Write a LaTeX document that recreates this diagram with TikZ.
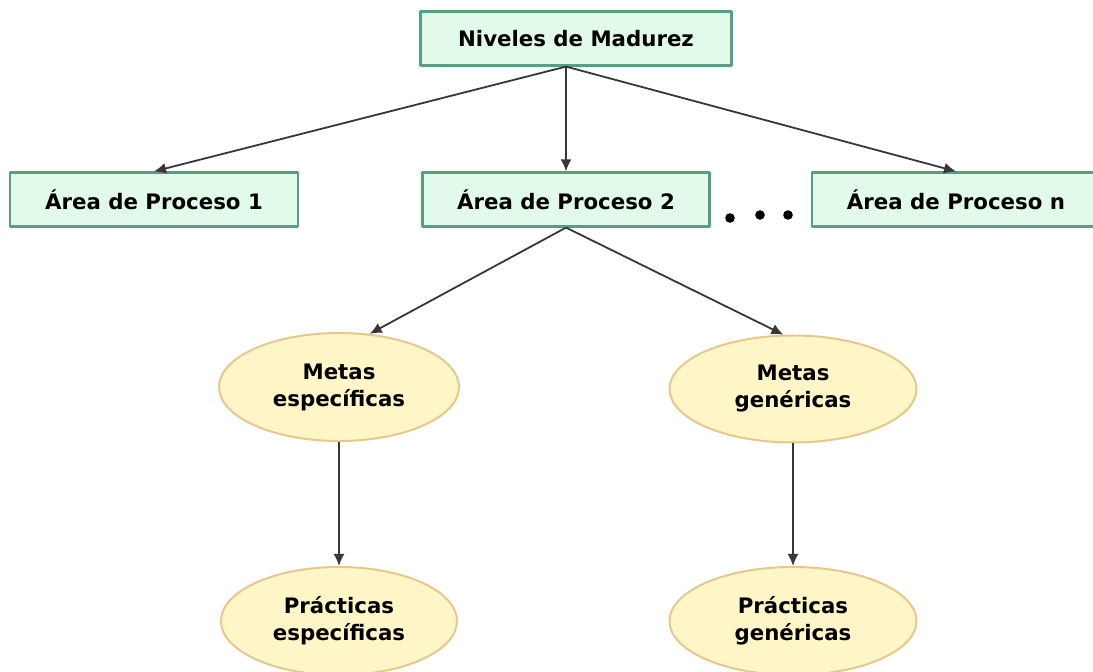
\documentclass[tikz,border=0pt]{standalone}
\usepackage[x11names, svgnames, rgb]{xcolor}
\usepackage{fontspec}
\setmainfont{DejaVu Sans}
\usepackage{tikz}
\usetikzlibrary{arrows.meta,shapes}
\definecolor{boxfill}{RGB}{226,250,233}
\definecolor{boxline}{RGB}{86,160,128}
\definecolor{ovalfill}{RGB}{255,246,200}
\definecolor{ovalline}{RGB}{230,200,140}
\definecolor{linkcol}{RGB}{55,55,55}

\begin{document}
\begin{tikzpicture}[>={Latex[length=12bp,width=11bp]},line join=bevel,
  txt/.style={font=\bfseries\fontsize{21.3bp}{27bp}\selectfont,align=center},
  areabox/.style={txt,draw=boxline,fill=boxfill,line width=2.2bp,inner sep=0pt,minimum height=54bp},
  oval/.style={txt,ellipse,draw=ovalline,fill=ovalfill,line width=2bp,inner sep=0pt},
  link/.style={->,draw=linkcol,line width=1.8bp}]
\useasboundingbox (0bp,0bp) rectangle (1093bp,672bp);
%%
\node (N) at (576.0bp,633.5bp) [areabox,minimum width=311bp] {Niveles de Madurez};
  \node (A1) at (154.0bp,472.5bp) [areabox,minimum width=288bp] {Área de Proceso 1};
  \node (A2) at (566.0bp,472.5bp) [areabox,minimum width=287bp] {Área de Proceso 2};
  \node (An) at (956.0bp,472.5bp) [areabox,minimum width=288bp] {Área de Proceso n};
  \node (ME) at (339.0bp,285.0bp) [oval,minimum width=240bp,minimum height=108bp] {Metas\\específicas};
  \node (MG) at (793.0bp,283.0bp) [oval,minimum width=247bp,minimum height=107bp] {Metas\\genéricas};
  \node (PE) at (339.0bp,51.0bp) [oval,minimum width=236bp,minimum height=108bp] {Prácticas\\específicas};
  \node (PG) at (793.0bp,51.0bp) [oval,minimum width=247bp,minimum height=108bp] {Prácticas\\genéricas};
  % dots between the areas
  \foreach \x/\y in {730/454,760/457,788/457}
    \fill [black] (\x bp,\y bp) circle (4.8bp);
  \draw [link] (N.south -| A2) -- (A1.north);
  \draw [link] (N.south -| A2) -- (A2.north);
  \draw [link] (N.south -| A2) -- (An.north);
  \draw [link] (A2.south) -- (ME.60);
  \draw [link] (A2.south) -- (MG.100);
  \draw [link] (ME.south) -- (PE.north);
  \draw [link] (MG.south) -- (PG.north);
%
\end{tikzpicture}
\end{document}
